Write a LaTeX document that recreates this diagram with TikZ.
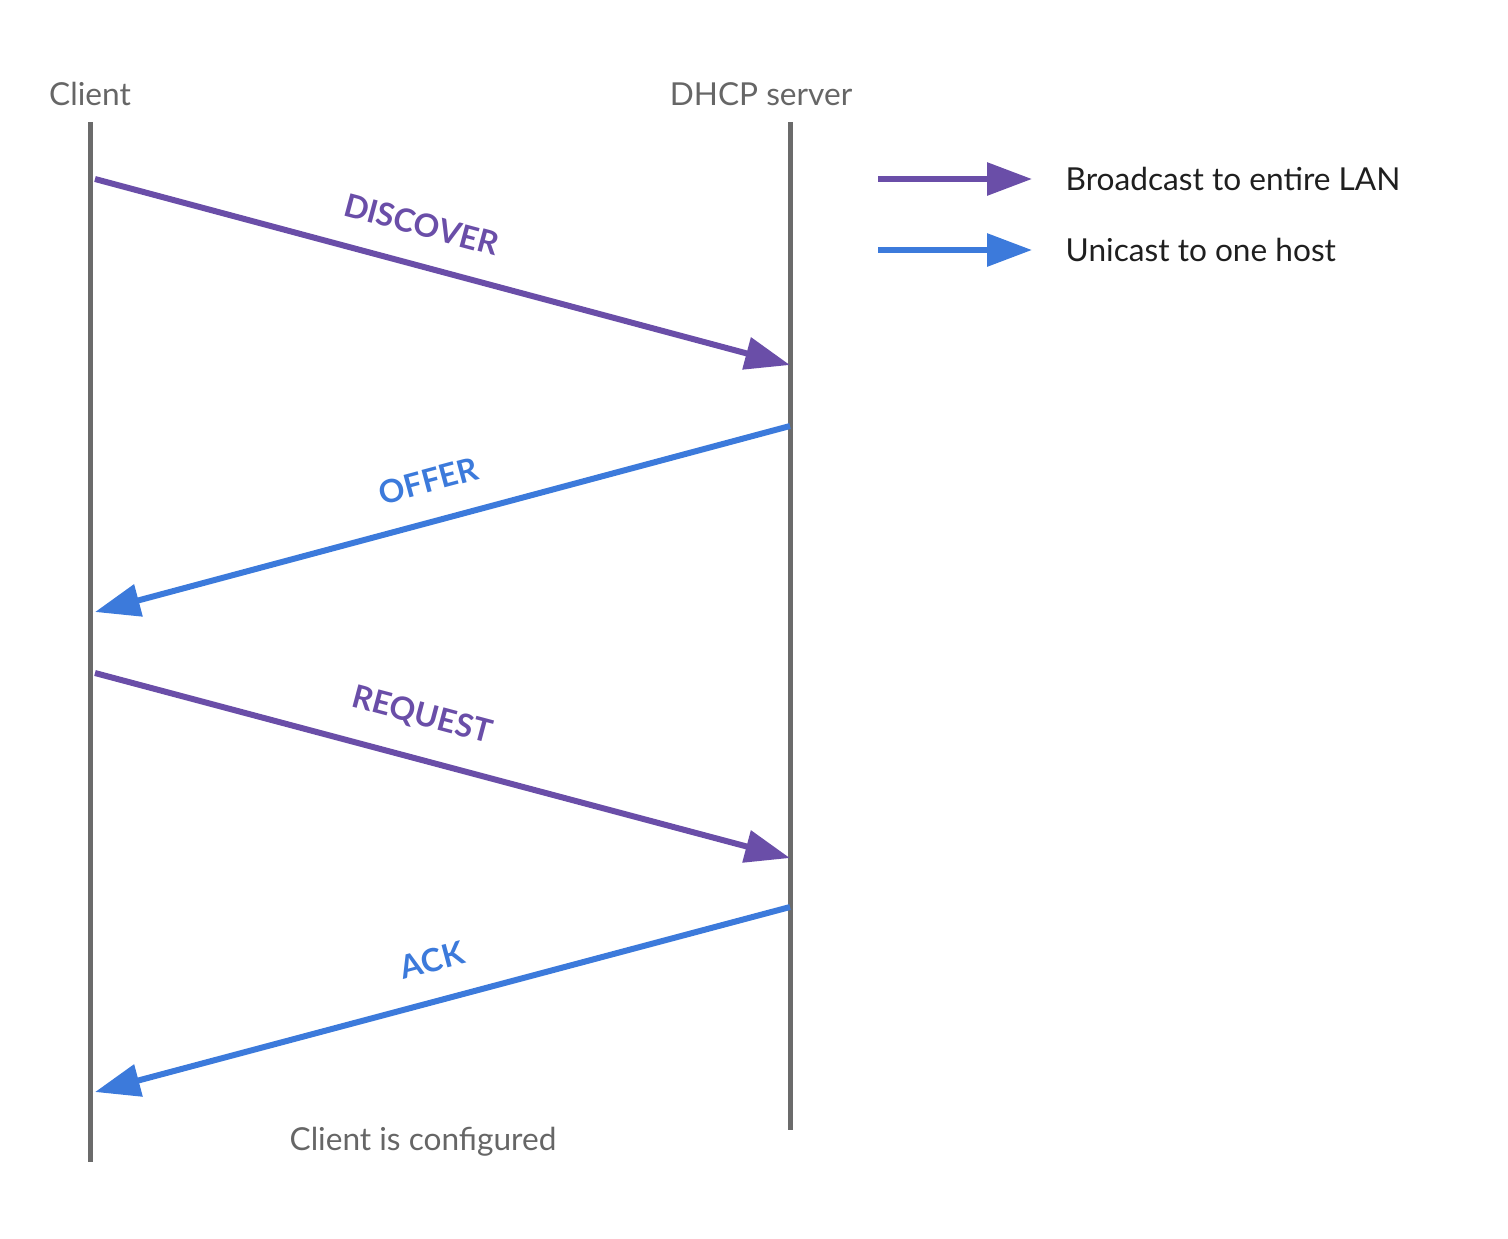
\documentclass[tikz,border=0pt]{standalone}
\usepackage{fontspec}
\setmainfont{Lato}
\usetikzlibrary{arrows.meta,positioning}

\definecolor{lifegray}{HTML}{6B6B6B}
\definecolor{titlegray}{HTML}{666666}
\definecolor{bcastcol}{HTML}{6A4EA8}
\definecolor{ucastcol}{HTML}{3C7ADB}

\begin{document}
\begin{tikzpicture}[
    every node/.style={font=\fontsize{9pt}{11pt}\selectfont},
    lifeline/.style={draw=lifegray, line width=0.05cm},
    title/.style={text=titlegray},
    msg/.style={line width=0.06cm, -{Triangle[length=0.45cm, width=0.32cm]}},
    bcast/.style={msg, draw=bcastcol},
    ucast/.style={msg, draw=ucastcol},
    msglabel/.style={sloped, above=0.14cm, font=\fontsize{9.1pt}{11pt}\selectfont\bfseries},
    legendtext/.style={text=black!88, inner sep=0pt}
]
\useasboundingbox (0,0) rectangle (15.08,-12.38);

% Lifelines
\coordinate (client top) at (0.90,-1.22);
\coordinate (client bot) at (0.90,-11.62);
\coordinate (server top) at (7.90,-1.22);
\coordinate (server bot) at (7.90,-11.30);
\draw[lifeline] (client top) -- (client bot);
\draw[lifeline] (server top) -- (server bot);

\node[title] (client) at (0.90,-0.94) {Client};
\node[title] (server) at (7.61,-0.94) {DHCP server};

% Messages
\coordinate (disc a) at (0.95,-1.79);
\coordinate (disc b) at (7.90,-3.65);
\coordinate (offr a) at (7.90,-4.26);
\coordinate (offr b) at (0.95,-6.12);
\coordinate (reqs a) at (0.95,-6.73);
\coordinate (reqs b) at (7.90,-8.58);
\coordinate (ackn a) at (7.90,-9.07);
\coordinate (ackn b) at (0.95,-10.92);

\draw[bcast] (disc a) -- node[msglabel, text=bcastcol, pos=0.455] {DISCOVER} (disc b);
\draw[ucast] (offr a) -- node[msglabel, text=ucastcol, pos=0.505] {OFFER} (offr b);
\draw[bcast] (reqs a) -- node[msglabel, text=bcastcol, pos=0.455] {REQUEST} (reqs b);
\draw[ucast] (ackn a) -- node[msglabel, text=ucastcol, pos=0.50] {ACK} (ackn b);

\node[title] (done) at (4.23,-11.42) {Client is configured};

% Legend
\coordinate (leg1 a) at (8.78,-1.79);
\coordinate (leg1 b) at (10.32,-1.79);
\coordinate (leg2 a) at (8.78,-2.50);
\coordinate (leg2 b) at (10.32,-2.50);
\draw[bcast] (leg1 a) -- (leg1 b);
\draw[ucast] (leg2 a) -- (leg2 b);
\node[legendtext, right=0.33cm of leg1 b] (bcast text) {Broadcast to entire LAN};
\node[legendtext, right=0.33cm of leg2 b] (ucast text) {Unicast to one host};
\end{tikzpicture}
\end{document}
